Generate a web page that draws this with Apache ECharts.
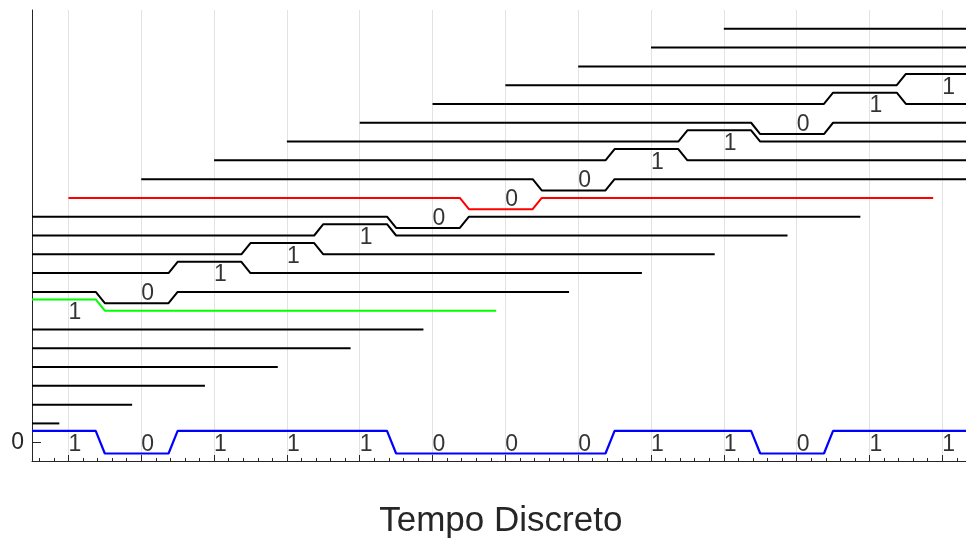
<!DOCTYPE html>
<html>
<head>
<meta charset="utf-8">
<title>Tempo Discreto</title>
<script src="https://cdn.jsdelivr.net/npm/echarts@6/dist/echarts.min.js"></script>
<style>
  html, body { margin: 0; padding: 0; background: #ffffff; }
  #chart { width: 966px; height: 545px; }
</style>
</head>
<body>
<div id="chart"></div>
<script>
// Transmitted bit sequence, one symbol per discrete time step 1..13
const bits = [1, 0, 1, 1, 1, 0, 0, 0, 1, 1, 0, 1, 1];
// Symbol times
const symbolTimes = [1, 2, 3, 4, 5, 6, 7, 8, 9, 10, 11, 12, 13];
// Sliding-window rows (row 1 at the bottom): where each row begins and ends in time
const rowStart = [0.5, 0.5, 0.5, 0.5, 0.5, 0.5, 0.5, 0.5, 0.5, 0.5, 0.5, 0.5,
                  1, 2, 3, 4, 5, 6, 7, 8, 9, 10];
const rowEnd = [0.875, 1.875, 2.875, 3.875, 4.875, 5.875, 6.875, 7.875, 8.875, 9.875, 10.875, 11.875,
                12.875, 13.875, 14.875, 15.875, 16.875, 17.875, 18.875, 19.875, 20.875, 21.875];
// Row on which each symbol (1..13) is shown as a single pulse
const bitRows = [7, 8, 9, 10, 11, 12, 13, 14, 15, 16, 17, 18, 19];
// Y tick labels
const yTickValues = [0];

const AMP = 0.6;          // pulse height relative to a row baseline
const RISE_START = 0.375; // a symbol's level holds until k + 0.375
const RISE_END = 0.5;     // and the next level is reached at k + 0.5
const X_MIN = 0.5, X_MAX = 13.375;
const FONT = 'Liberation Sans, Arial, sans-serif';

const level = b => (b ? AMP : -AMP);

// Full waveform along the time axis
function waveformPoints() {
  const pts = [[X_MIN, level(bits[0])]];
  for (let i = 0; i < bits.length - 1; i++) {
    const k = symbolTimes[i];
    pts.push([k + RISE_START, level(bits[i])]);
    pts.push([k + RISE_END, level(bits[i + 1])]);
  }
  pts.push([X_MAX, level(bits[bits.length - 1])]);
  return pts;
}

// One row: a flat baseline with at most one symbol pulse on it
function rowPoints(row) {
  const s = rowStart[row - 1], e = rowEnd[row - 1];
  const idx = bitRows.indexOf(row);
  if (idx < 0) return [[s, row], [e, row]];
  const k = symbolTimes[idx];
  const lv = row + level(bits[idx]);
  const up0 = k - 1 + RISE_START, up1 = k - 1 + RISE_END;
  const pts = [];
  if (s < up0) pts.push([s, row], [up0, row]);
  pts.push([Math.max(s, up1), lv]);
  pts.push([k + RISE_START, lv], [k + RISE_END, row], [e, row]);
  return pts;
}

const rowColor = row => (row === 7 ? '#00ff00' : row === 13 ? '#ff0000' : '#000000');

const series = [];
for (let r = 1; r <= rowStart.length; r++) {
  series.push({
    type: 'line',
    data: rowPoints(r),
    symbol: 'none',
    silent: true,
    lineStyle: { color: rowColor(r), width: 2 },
    z: r === 7 || r === 13 ? 3 : 2
  });
}
series.push({
  type: 'line',
  data: waveformPoints(),
  symbol: 'none',
  silent: true,
  lineStyle: { color: '#0000ff', width: 2.2 },
  z: 3
});

// Bit values written at their symbol times, on the waveform and on each pulse row
const labelData = [];
bits.forEach((b, i) => {
  labelData.push([symbolTimes[i], 0, b]);
  labelData.push([symbolTimes[i], bitRows[i], b]);
});
series.push({
  type: 'scatter',
  data: labelData,
  symbolSize: 0,
  silent: true,
  z: 5,
  label: {
    show: true,
    position: 'right',
    distance: 0,
    offset: [0, 2],
    formatter: p => String(p.value[2]),
    color: '#000000',
    textBorderWidth: 0,
    fontFamily: FONT,
    fontSize: 23
  }
});

const chart = echarts.init(document.getElementById('chart'), null, { renderer: 'canvas' });
chart.setOption({
  animation: false,
  backgroundColor: '#ffffff',
  grid: { left: 32, right: -3.6, top: 10, bottom: 84, outerBoundsMode: 'none', containLabel: false },
  xAxis: {
    type: 'value',
    min: X_MIN,
    max: X_MAX,
    splitNumber: 13,
    minInterval: 1,
    maxInterval: 1,
    name: 'Tempo Discreto',
    nameLocation: 'middle',
    nameGap: 43,
    nameTextStyle: { color: '#262626', fontSize: 35, fontFamily: FONT },
    axisLine: { show: true, onZero: false, lineStyle: { color: '#262626', width: 1 } },
    axisTick: { show: true, inside: true, length: 6, lineStyle: { color: '#262626', width: 1 } },
    minorTick: { show: true, splitNumber: 5, length: 3, lineStyle: { color: '#262626', width: 1 } },
    axisLabel: { show: false },
    splitLine: { show: true, showMinLine: false, lineStyle: { color: '#e3e3e3', width: 1 } },
    minorSplitLine: { show: false }
  },
  yAxis: {
    type: 'value',
    min: -1,
    max: 23,
    minInterval: 100,
    axisLine: { show: true, onZero: false, lineStyle: { color: '#262626', width: 1 } },
    axisTick: { show: true, inside: true, length: 9, customValues: yTickValues, lineStyle: { color: '#262626', width: 1 } },
    axisLabel: {
      show: true,
      customValues: yTickValues,
      showMinLabel: false,
      showMaxLabel: false,
      margin: 8,
      color: '#262626',
      fontSize: 23,
      fontFamily: FONT
    },
    splitLine: { show: true, showMinLine: false, showMaxLine: false, lineStyle: { color: '#e3e3e3', width: 1 } }
  },
  series: series
});
</script>
</body>
</html>
